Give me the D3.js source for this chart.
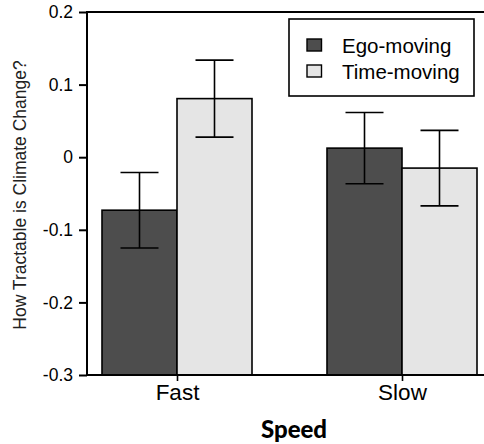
<!DOCTYPE html>
<html>
<head>
<meta charset="utf-8">
<script src="https://cdn.jsdelivr.net/npm/d3@7"></script>
<style>
  html, body { margin: 0; padding: 0; background: #fff; }
  svg { display: block; }
</style>
</head>
<body>
<div id="chart"></div>
<script>
"use strict";

// data
const categories = ["Fast", "Slow"];
const series = ["Ego-moving", "Time-moving"];
const egoMeans = [-0.073, 0.0125];
const timeMeans = [0.0807, -0.015];
const egoErr = [0.052, 0.049];
const timeErr = [0.053, 0.052];
const yTicks = [0.2, 0.1, 0, -0.1, -0.2, -0.3];
const seriesColors = ["#4d4d4d", "#e5e5e5"];

const width = 484, height = 444;
const plot = { left: 87, top: 12, right: 496, bottom: 375 };

const rows = [];
categories.forEach((c, i) => {
    rows.push({ cat: c, s: series[0], mean: egoMeans[i], err: egoErr[i] });
    rows.push({ cat: c, s: series[1], mean: timeMeans[i], err: timeErr[i] });
});

const svg = d3.select("#chart").append("svg")
    .attr("width", width)
    .attr("height", height);

const y = d3.scaleLinear()
    .domain([-0.3, 0.2])
    .range([plot.bottom, plot.top]);

const x = d3.scalePoint()
    .domain(categories)
    .range([177, 402]);

const xs = d3.scaleBand()
    .domain(series)
    .range([-75, 75]);

const color = d3.scaleOrdinal().domain(series).range(seriesColors);

// bars
svg.append("g").selectAll("rect")
    .data(rows)
    .enter().append("rect")
    .attr("x", d => x(d.cat) + xs(d.s))
    .attr("width", xs.bandwidth())
    .attr("y", d => y(d.mean))
    .attr("height", d => y(-0.3) - y(d.mean))
    .style("fill", d => color(d.s))
    .style("stroke", "#000")
    .style("stroke-width", "1.6px");

// error bars
const eb = svg.append("g").selectAll("g")
    .data(rows)
    .enter().append("g")
    .attr("transform", d => `translate(${x(d.cat) + xs(d.s) + xs.bandwidth() / 2},0)`)
    .style("stroke", "#000")
    .style("stroke-width", "1.6px");

eb.append("line")
    .attr("y1", d => y(d.mean + d.err))
    .attr("y2", d => y(d.mean - d.err));
eb.append("line")
    .attr("x1", -19).attr("x2", 19)
    .attr("y1", d => y(d.mean + d.err))
    .attr("y2", d => y(d.mean + d.err));
eb.append("line")
    .attr("x1", -19).attr("x2", 19)
    .attr("y1", d => y(d.mean - d.err))
    .attr("y2", d => y(d.mean - d.err));

// frame (runs off the right edge like the reference)
svg.append("rect")
    .attr("x", plot.left)
    .attr("y", plot.top)
    .attr("width", plot.right - plot.left)
    .attr("height", plot.bottom - plot.top)
    .style("fill", "none")
    .style("stroke", "#000")
    .style("stroke-width", "2px");

// y axis
const yAxis = svg.append("g")
    .attr("transform", `translate(${plot.left},0)`)
    .call(d3.axisLeft(y)
        .tickValues(yTicks)
        .tickSize(8)
        .tickPadding(6)
        .tickFormat(d => d === 0 ? "0" : d.toFixed(1)));
yAxis.select(".domain").remove();
yAxis.selectAll(".tick line").style("stroke", "#000").style("stroke-width", "2px");
yAxis.selectAll(".tick text")
    .style("font-family", "'Liberation Sans', Arial, sans-serif")
    .style("font-size", "17.5px")
    .style("fill", "#000");

// x axis
const xAxis = svg.append("g")
    .attr("transform", `translate(0,${plot.bottom})`)
    .call(d3.axisBottom(x).tickSize(6).tickPadding(3));
xAxis.select(".domain").remove();
xAxis.selectAll(".tick line").style("stroke", "#000").style("stroke-width", "1.6px");
xAxis.selectAll(".tick text")
    .style("font-family", "'Liberation Sans', Arial, sans-serif")
    .style("font-size", "22.5px")
    .style("fill", "#000");

// axis titles
svg.append("text")
    .attr("transform", `translate(26,${(62 + 328) / 2}) rotate(-90)`)
    .attr("text-anchor", "middle")
    .style("font-family", "'Liberation Sans', Arial, sans-serif")
    .style("font-size", "17.5px")
    .style("fill", "#222")
    .text("How Tractable is Climate Change?");

svg.append("text")
    .attr("x", 294)
    .attr("y", 438)
    .attr("text-anchor", "middle")
    .style("font-family", "Lato, sans-serif")
    .style("font-weight", "900")
    .style("font-size", "24px")
    .style("fill", "#000")
    .text("Speed");

// legend
const legend = svg.append("g").attr("transform", "translate(289,19)");
legend.append("rect")
    .attr("width", 185)
    .attr("height", 77)
    .style("fill", "#fff")
    .style("stroke", "#000")
    .style("stroke-width", "1.6px");

const item = legend.selectAll("g.item")
    .data(series)
    .enter().append("g")
    .attr("class", "item")
    .attr("transform", (d, i) => `translate(0,${20 + i * 26})`);

item.append("rect")
    .attr("x", 18)
    .attr("width", 14.5)
    .attr("height", 12)
    .style("fill", d => color(d))
    .style("stroke", "#000")
    .style("stroke-width", "1.4px");

item.append("text")
    .attr("x", 53)
    .attr("y", 13.5)
    .style("font-family", "'Liberation Sans', Arial, sans-serif")
    .style("font-size", "20.5px")
    .style("fill", "#000")
    .text(d => d);
</script>
</body>
</html>
